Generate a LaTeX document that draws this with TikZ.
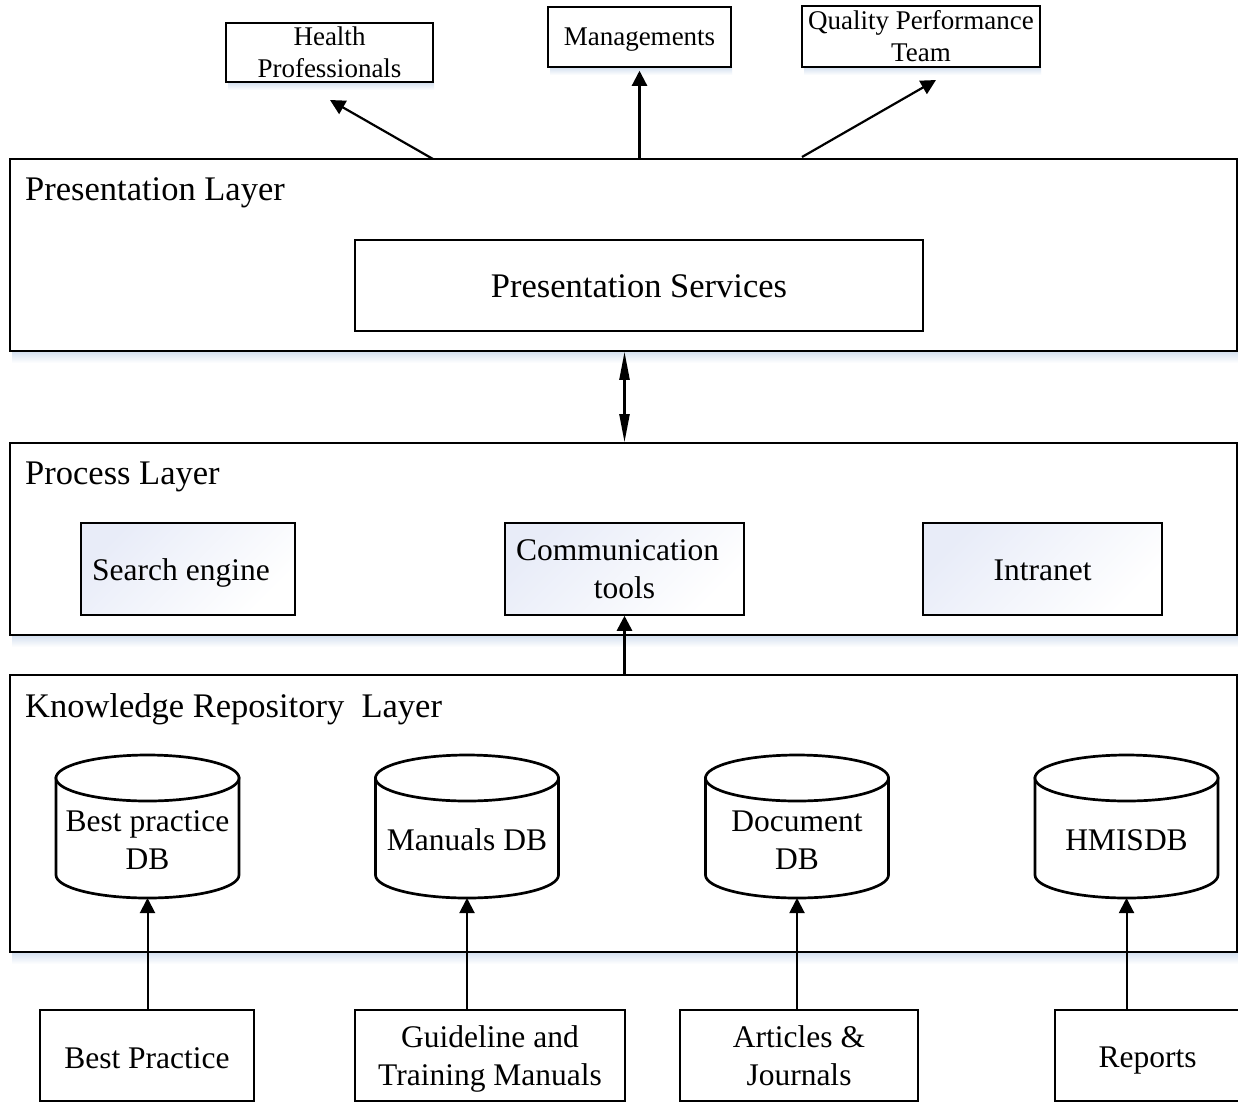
\documentclass[tikz,border=0pt]{standalone}
\usepackage{fontspec}
\setmainfont{Liberation Serif}
\usetikzlibrary{arrows.meta}
\definecolor{shadowblue}{HTML}{D3DFEF}
\definecolor{fillblue}{HTML}{E8ECF8}
\newcommand{\lowertxt}[2]{\raisebox{-#1}[\height][\depth]{#2}}
\begin{document}
\begin{tikzpicture}[x=1pt,y=-1pt,
  box/.style={draw, line width=1.5pt, fill=white, inner sep=0pt, align=center},
  gbox/.style={draw, line width=1.5pt, inner sep=0pt, align=center,
     top color=fillblue, bottom color=white, shading angle=45},
  layer/.style={draw, line width=1.6pt, fill=white, inner sep=0pt},
  ftop/.style={font=\fontsize{27pt}{32pt}\selectfont},
  flay/.style={font=\fontsize{34.5pt}{40pt}\selectfont},
  fmid/.style={font=\fontsize{31.5pt}{38pt}\selectfont},
  lbl/.style={flay, anchor=west, inner sep=0pt},
  cyl/.style={draw, line width=2.7pt, fill=white},
  arr/.style={line width=2.2pt, -{Triangle[length=15pt,width=15pt]}},
  darr/.style={line width=2.2pt, {Triangle[length=28pt,width=10pt]}-{Triangle[length=28pt,width=10pt]}},
  shadowstrip/.style={top color=shadowblue, bottom color=white, draw=none}
]
\useasboundingbox (0,0) rectangle (1238,1103);
\fill[white] (0,0) rectangle (1238,1103);

% shadows
\shade[shadowstrip] (12,351) rectangle (1238,363);
\shade[shadowstrip] (12,635) rectangle (1238,647);
\shade[shadowstrip] (12,952) rectangle (1238,964);
\shade[shadowstrip] (228,82) rectangle (434,90);
\shade[shadowstrip] (550,67) rectangle (732,75);
\shade[shadowstrip] (804,67) rectangle (1041,75);

% top boxes
\node[box, ftop, minimum width=207pt, minimum height=59pt] (hp) at (329.5,52.5) {Health\\Professionals};
\node[box, ftop, minimum width=183pt, minimum height=60pt] (mg) at (639.5,37) {\lowertxt{3pt}{Managements}};
\node[box, ftop, minimum width=238pt, minimum height=61pt] (qpt) at (921,36.5) {Quality Performance\\Team};

% layers
\node[layer, minimum width=1227pt, minimum height=192pt] (pl) at (623.5,255) {};
\node[layer, minimum width=1227pt, minimum height=192pt] (prl) at (623.5,539) {};
\node[layer, minimum width=1227pt, minimum height=277pt] (kl) at (623.5,813.5) {};
\node[lbl] (pllbl) at (25,193) {Presentation Layer};
\node[lbl] (prllbl) at (25,477) {Process Layer};
\node[lbl] (kllbl) at (25,709.5) {Knowledge Repository\ \ Layer};

% presentation services
\node[box, flay, minimum width=568pt, minimum height=91pt] (ps) at (639,285.5) {\lowertxt{1pt}{Presentation Services}};

% process boxes
\node[gbox, fmid, minimum width=214pt, minimum height=92pt] (se) at (188,569) {\hspace*{-14pt}\lowertxt{4pt}{Search engine}};
\node[gbox, fmid, minimum width=239pt, minimum height=92pt] (ct) at (624.5,569) {\hspace*{-14pt}Communication\\tools};
\node[gbox, fmid, minimum width=239pt, minimum height=92pt] (in) at (1042.5,569) {\lowertxt{1.5pt}{Intranet}};

% cylinders
\foreach \n/\cx/\txt in {bpdb/147.5/{Best practice\\DB}, mdb/467/{Manuals DB}, ddb/797/{Document\\DB}, hdb/1126.5/{HMISDB}}{
  \path[cyl] (\cx-91.5,778) -- (\cx-91.5,875) arc[start angle=180, end angle=0, x radius=91.5, y radius=23] -- (\cx+91.5,778) -- cycle;
  \draw[cyl] (\cx,778) ellipse [x radius=91.5, y radius=23];
  \node[fmid, align=center, inner sep=0pt] (\n) at (\cx,840) {\txt};
  \coordinate (\n-b) at (\cx,898);
}

% bottom boxes
\node[box, fmid, minimum width=214pt, minimum height=91pt] (bp) at (147,1055.5) {\lowertxt{3pt}{Best Practice}};
\node[box, fmid, minimum width=270pt, minimum height=91pt] (gt) at (490,1055.5) {\lowertxt{3pt}{\begin{tabular}{@{}c@{}}Guideline and\\Training Manuals\end{tabular}}};
\node[box, fmid, minimum width=238pt, minimum height=91pt] (aj) at (799,1055.5) {Articles \&\\Journals};
\node[box, fmid, minimum width=185pt, minimum height=91pt] (rp) at (1147.5,1055.5) {\lowertxt{5pt}{Reports}};

% top arrows
\coordinate (a1s) at (433,159);
\coordinate (a1e) at (330,100);
\coordinate (a3s) at (802,157);
\coordinate (a3e) at (936,80);
\draw[arr] (a1s) -- (a1e);
\draw[arr, shorten >=3pt] (pl.north -| mg.south) -- (mg.south);
\draw[arr] (a3s) -- (a3e);

% double arrow
\draw[darr] (pl.south -| ct.south) -- (prl.north -| ct.south);

% comm arrow
\draw[arr, line width=2.6pt] (kl.north -| ct.south) -- (ct.south);

% bottom arrows
\draw[arr, line width=2pt] (bp.north -| bpdb-b) -- (bpdb-b);
\draw[arr, line width=2pt] (gt.north -| mdb-b) -- (mdb-b);
\draw[arr, line width=2pt] (aj.north -| ddb-b) -- (ddb-b);
\draw[arr, line width=2pt] (rp.north -| hdb-b) -- (hdb-b);
\end{tikzpicture}
\end{document}
